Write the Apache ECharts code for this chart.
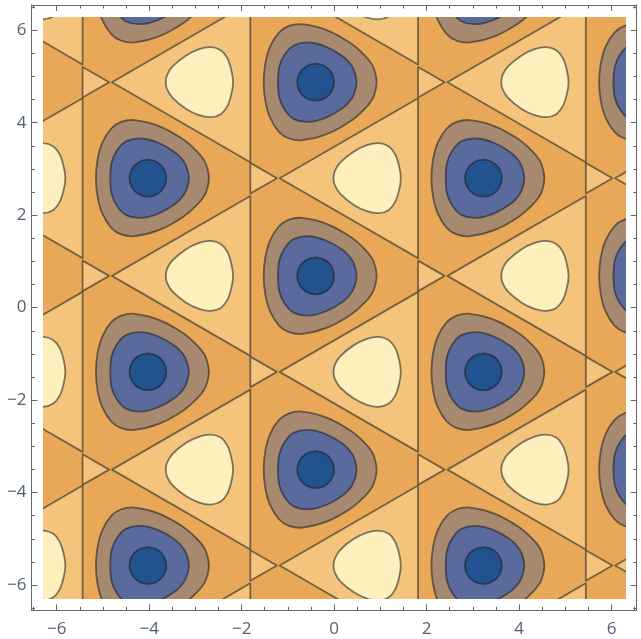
<!DOCTYPE html>
<html>
<head>
<meta charset="utf-8">
<style>html,body{margin:0;padding:0;background:#fff}#c{width:641px;height:639px}</style>
<script src="https://cdn.jsdelivr.net/npm/echarts@6/dist/echarts.min.js"></script>
</head>
<body>
<div id="c"></div>
<script>
// Saddle points of the pattern, by column
var crossX = [-8.46, -4.833, -1.206, 2.421, 6.048, 9.675];
var rowsEven = [4.876, 0.686, -3.504, -7.694];
var rowsOdd = [6.99, 2.80, -1.39, -5.58];
// Offset of the dark blob centre from its saddle point
var blobOffsetX = -2.82;
// Contour outlines, relative to their saddle point or blob centre
var bigTriangle = [[0.03,0],[3.022,1.73],[3.022,-1.73]];
var smallTriangle = [[-0.605,0.33],[-0.605,-0.33],[-0.03,0]];
var paleBlob = [[1.194,0],[1.222,0.151],[1.336,0.335],[1.626,0.573],[1.914,0.714],[2.166,0.757],[2.383,0.692],[2.525,0.519],[2.612,0.259],[2.649,0],[2.612,-0.259],[2.525,-0.519],[2.383,-0.692],[2.166,-0.757],[1.914,-0.714],[1.626,-0.573],[1.336,-0.335],[1.222,-0.151]];
var brownBlob = [[1.319,0],[1.29,0.2],[1.22,0.38],[1.06,0.58],[0.76,0.84],[0.25,1.12],[-0.288,1.254],[-0.577,1.218],[-0.793,1.074],[-0.987,0.764],[-1.088,0.404],[-1.124,0],[-1.088,-0.404],[-0.987,-0.764],[-0.793,-1.074],[-0.577,-1.218],[-0.288,-1.254],[0.25,-1.12],[0.76,-0.84],[1.06,-0.58],[1.22,-0.38],[1.29,-0.2]];
var blueBlob = [[0.886,0],[0.85,0.2],[0.77,0.37],[0.6,0.55],[0.24,0.76],[-0.14,0.858],[-0.468,0.8],[-0.67,0.598],[-0.786,0.332],[-0.814,0],[-0.786,-0.332],[-0.67,-0.598],[-0.468,-0.8],[-0.14,-0.858],[0.24,-0.76],[0.6,-0.55],[0.77,-0.37],[0.85,-0.2]];
var coreBlob = [[0.4,0],[0.346,0.2],[0.2,0.346],[0,0.4],[-0.2,0.346],[-0.346,0.2],[-0.4,0],[-0.346,-0.2],[-0.2,-0.346],[0,-0.4],[0.2,-0.346],[0.346,-0.2]];
// Tick values
var majorTicks = [-6,-4,-2,0,2,4,6];
var minorTicks = [-6.5,-5.5,-5,-4.5,-3.5,-3,-2.5,-1.5,-1,-0.5,0.5,1,1.5,2.5,3,3.5,4.5,5,5.5,6.5];

var C = {dark:'#e8a857', light:'#f4c47c', pale:'#fef0bd', brown:'#a6896f', blue:'#5a6a9c', core:'#22528f'};
var LINE = 'rgba(25,30,35,0.56)';

var crossings = [];
crossX.forEach(function (x, i) {
  (i % 2 === 1 ? rowsEven : rowsOdd).forEach(function (y) { crossings.push([x, y]); });
});

function layer(points, fill, dx, smooth) {
  return {
    type: 'custom', coordinateSystem: 'cartesian2d', xAxisIndex: 4, yAxisIndex: 4,
    clip: true, silent: true, animation: false, data: crossings,
    renderItem: function (params, api) {
      var x = api.value(0) + dx, y = api.value(1);
      return {
        type: 'polygon',
        shape: { points: points.map(function (p) { return api.coord([x + p[0], y + p[1]]); }), smooth: smooth },
        style: { fill: fill, stroke: LINE, lineWidth: 1.8, lineJoin: 'round' }
      };
    }
  };
}

var lim = 6.545;
var frame = {left: 31.5, top: 5, width: 605.2, height: 605.3, show: false};
var axisColor = '#666666';
var lbl = {show:true, customValues: majorTicks, color:'#4f5f72', fontFamily:'Open Sans', fontSize:17,
  formatter: function (v) { return String(v).replace('-', '\u2212'); }};

function outer(type, pos, grid, ticks, len, labelled) {
  var a = {
    type:'value', gridIndex:grid, position:pos, min:-lim, max:lim, silent:true,
    splitLine:{show:false}, axisPointer:{show:false},
    axisLine:{show:true, onZero:false, lineStyle:{color:axisColor, width:1}},
    axisTick:{show:true, inside:true, length:len, customValues:ticks, lineStyle:{color:axisColor, width:1}},
    axisLabel: labelled ? Object.assign({margin: type === 'x' ? 10 : 5}, lbl) : {show:false}
  };
  return a;
}

var option = {
  animation: false,
  backgroundColor: '#ffffff',
  grid: [
    frame,
    Object.assign({}, frame),
    Object.assign({}, frame),
    Object.assign({}, frame),
    {left:43, top:17, width:583, height:582, show:true, backgroundColor:C.dark, borderWidth:0}
  ],
  xAxis: [
    outer('x','bottom',0,majorTicks,6,true),
    outer('x','bottom',1,minorTicks,3.5,false),
    outer('x','top',2,majorTicks,6,false),
    outer('x','top',3,minorTicks,3.5,false),
    {type:'value', gridIndex:4, min:-6.294, max:6.312, show:false}
  ],
  yAxis: [
    outer('y','left',0,majorTicks,6,true),
    outer('y','left',1,minorTicks,3.5,false),
    outer('y','right',2,majorTicks,6,false),
    outer('y','right',3,minorTicks,3.5,false),
    {type:'value', gridIndex:4, min:-6.303, max:6.286, show:false}
  ],
  series: [
    layer(bigTriangle, C.light, 0, 0),
    layer(smallTriangle, C.light, 0, 0),
    layer(paleBlob, C.pale, 0, 0.33),
    layer(brownBlob, C.brown, blobOffsetX, 0.33),
    layer(blueBlob, C.blue, blobOffsetX, 0.33),
    layer(coreBlob, C.core, blobOffsetX, 0.33)
  ]
};
echarts.init(document.getElementById('c'), null, {renderer:'canvas'}).setOption(option);
</script>
</body>
</html>
